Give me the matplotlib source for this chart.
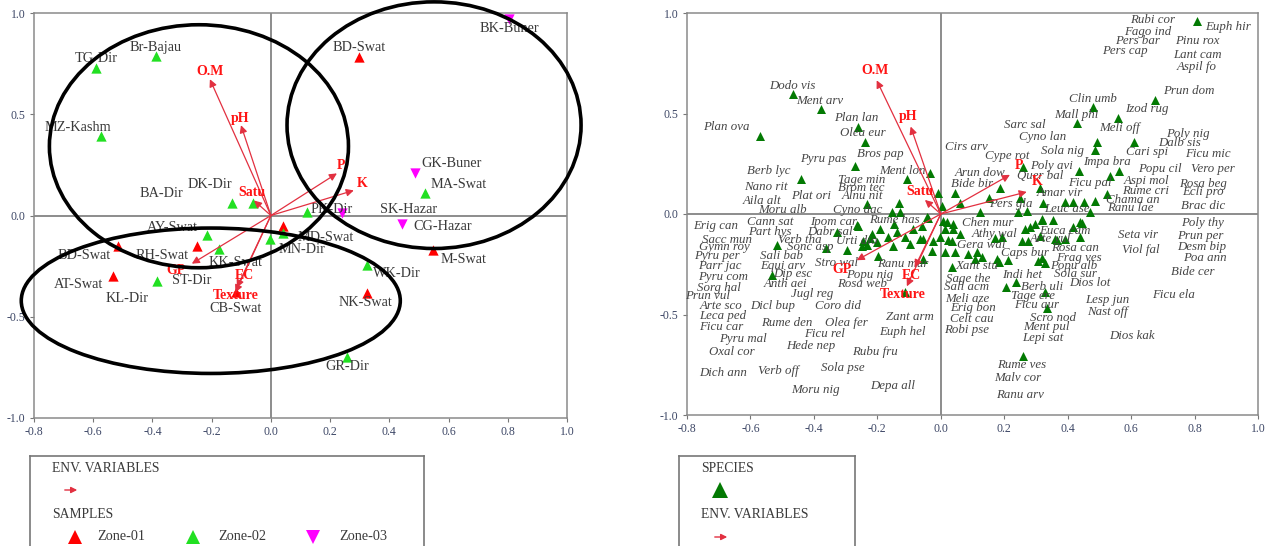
import matplotlib
matplotlib.use('Agg')
import matplotlib.pyplot as plt
from matplotlib.patches import Ellipse
from matplotlib.ticker import FuncFormatter

plt.rcParams['font.family'] = ['Liberation Serif', 'DejaVu Serif']
plt.rcParams['axes.unicode_minus'] = False

# ---------------- samples (left biplot) ----------------
samples = ['TG-Dir', 'Br-Bajau', 'MZ-Kashm', 'BA-Dir', 'DK-Dir', 'BD-Swat', 'BK-Buner',
           'GK-Buner', 'MA-Swat', 'PK-Dir', 'SK-Hazar', 'CG-Hazar', 'M-Swat', 'WK-Dir',
           'NK-Swat', 'GR-Dir', 'MD-Swat', 'MN-Dir', 'KL-Dir', 'AY-Swat', 'BD-Swat',
           'RH-Swat', 'KK-Swat', 'AT-Swat', 'ST-Dir', 'CB-Swat']
sample_x = [-0.591, -0.389, -0.574, -0.132, -0.061, 0.297, 0.804, 0.486, 0.520, 0.122,
            0.240, 0.443, 0.547, 0.324, 0.324, 0.257, 0.041, -0.003, 0.041, -0.216,
            -0.517, -0.250, -0.176, -0.534, -0.385, -0.118]
sample_y = [0.728, 0.787, 0.391, 0.064, 0.064, 0.782, 0.970, 0.208, 0.109, 0.015,
            0.010, -0.040, -0.168, -0.243, -0.381, -0.698, -0.054, -0.114, -0.084, -0.094,
            -0.149, -0.149, -0.163, -0.297, -0.322, -0.376]
sample_zone = [2, 2, 2, 2, 2, 1, 3, 3, 2, 2, 3, 3, 1, 2, 1, 2, 1, 2, 2, 2, 1, 1, 2, 1, 2, 1]
sample_lab_x = [-0.591, -0.389, -0.652, -0.368, -0.206, 0.297, 0.804, 0.611, 0.635, 0.206,
                0.466, 0.581, 0.649, 0.426, 0.321, 0.257, 0.186, 0.105, -0.486, -0.334,
                -0.632, -0.368, -0.118, -0.649, -0.267, -0.118]
sample_lab_y = [0.777, 0.832, 0.436, 0.109, 0.153, 0.832, 0.921, 0.257, 0.153, 0.030,
                0.030, -0.054, -0.218, -0.287, -0.431, -0.748, -0.109, -0.168, -0.411, -0.059,
                -0.198, -0.198, -0.233, -0.342, -0.322, -0.460]

zone_names = ['Zone-01', 'Zone-02', 'Zone-03']
zone_colors = {1: '#ff0000', 2: '#22e022', 3: '#ff00ff'}
zone_markers = {1: '^', 2: '^', 3: 'v'}

# ---------------- environmental variables ----------------
env_names = ['O.M', 'pH', 'Satu', 'P', 'K', 'GP', 'EC', 'Texture']
env_x_l = [-0.206, -0.101, -0.057, 0.223, 0.280, -0.267, -0.115, -0.120]
env_y_l = [0.673, 0.446, 0.074, 0.208, 0.124, -0.238, -0.356, -0.380]
env_lab_x_l = [-0.206, -0.105, -0.064, 0.236, 0.307, -0.321, -0.091, -0.118]
env_lab_y_l = [0.713, 0.480, 0.114, 0.248, 0.158, -0.272, -0.297, -0.396]

env_x_r = [-0.202, -0.095, -0.050, 0.218, 0.271, -0.265, -0.082, -0.107]
env_y_r = [0.665, 0.435, 0.070, 0.195, 0.110, -0.230, -0.265, -0.360]
env_lab_x_r = [-0.208, -0.104, -0.066, 0.246, 0.303, -0.312, -0.091, -0.120]
env_lab_y_r = [0.715, 0.485, 0.110, 0.240, 0.160, -0.275, -0.305, -0.400]

# ---------------- species (right biplot) ----------------
species = ['Dodo vis', 'Ment arv', 'Plan lan', 'Plan ova', 'Olea eur', 'Bros pap', 'Pyru pas',
           'Berb lyc', 'Ment lon', 'Tage min', 'Nano rit', 'Brom tec', 'Plat ori', 'Alnu nit',
           'Aila alt', 'Moru alb', 'Cyno dac', 'Rume has', 'Erig can', 'Cann sat', 'Ipom car',
           'Part hys', 'Dabr sal', 'Sacc mun', 'Verb tha', 'Gymn roy', 'Sonc asp', 'Urti dio',
           'Pyru per', 'Sali bab', 'Parr jac', 'Equi arv', 'Stro wal', 'Ranu mur', 'Pyru com',
           'Dip esc', 'Popu nig', 'Anth aei', 'Rosa web', 'Sorg hal', 'Prun vul', 'Jugl reg',
           'Arte sco', 'Dicl bup', 'Coro did', 'Leca ped', 'Zant arm', 'Rume den', 'Olea fer',
           'Ficu car', 'Ficu rel', 'Euph hel', 'Pyru mal', 'Hede nep', 'Oxal cor', 'Rubu fru',
           'Sola pse', 'Dich ann', 'Verb off', 'Depa all', 'Moru nig',
           'Rubi cor', 'Euph hir', 'Fago ind', 'Pers bar', 'Pinu rox', 'Pers cap', 'Lant cam',
           'Aspil fo', 'Prun dom', 'Clin umb', 'Izod rug', 'Mall phi', 'Sarc sal', 'Meli off',
           'Poly nig', 'Cyno lan', 'Dalb sis', 'Cirs arv', 'Sola nig', 'Cari spi', 'Ficu mic',
           'Cype rot', 'Poly avi', 'Impa bra', 'Popu cil', 'Vero per', 'Arun dow', 'Quer bal',
           'Bide bir', 'Ficu pal', 'Aspi mol', 'Rosa beg', 'Amar vir', 'Rume cri', 'Ecli pro',
           'Pers gla', 'Chama an', 'Leuc ase', 'Ranu lae', 'Brac dic', 'Chen mur', 'Poly thy',
           'Euca cam', 'Athy wal', 'Arte vul', 'Seta vir', 'Prun per', 'Gera wal', 'Rosa can',
           'Viol fal', 'Desm bip', 'Caps bur', 'Frag ves', 'Poa ann', 'Xant stu', 'Popu alb',
           'Sola sur', 'Indi het', 'Bide cer', 'Sage the', 'Dios lot', 'Sali acm', 'Berb uli',
           'Tage ere', 'Ficu ela', 'Meli aze', 'Lesp jun', 'Ficu aur', 'Erig bon', 'Nast off',
           'Scro nod', 'Celt cau', 'Ment pul', 'Robi pse', 'Dios kak', 'Lepi sat', 'Rume ves',
           'Malv cor', 'Ranu arv']
species_lab_x = [-0.467, -0.382, -0.265, -0.675, -0.246, -0.192, -0.372,
                 -0.543, -0.120, -0.249, -0.552, -0.252, -0.410, -0.246,
                 -0.565, -0.498, -0.262, -0.145, -0.710, -0.536, -0.338,
                 -0.539, -0.350, -0.675, -0.445, -0.681, -0.413, -0.265,
                 -0.707, -0.502, -0.697, -0.498, -0.328, -0.120, -0.688,
                 -0.467, -0.224, -0.489, -0.249, -0.700, -0.735, -0.404,
                 -0.691, -0.530, -0.325, -0.688, -0.098, -0.486, -0.297,
                 -0.691, -0.366, -0.120, -0.625, -0.410, -0.659, -0.208,
                 -0.309, -0.685, -0.511, -0.151, -0.394,
                 0.669, 0.905, 0.653, 0.621, 0.808, 0.580, 0.808,
                 0.808, 0.782, 0.479, 0.650, 0.426, 0.265, 0.565,
                 0.779, 0.322, 0.754, 0.082, 0.385, 0.650, 0.842,
                 0.211, 0.350, 0.524, 0.691, 0.858, 0.123, 0.312,
                 0.098, 0.470, 0.647, 0.826, 0.375, 0.644, 0.826,
                 0.221, 0.606, 0.397, 0.596, 0.826, 0.148, 0.826,
                 0.391, 0.170, 0.344, 0.621, 0.817, 0.129, 0.423,
                 0.631, 0.823, 0.265, 0.435, 0.833, 0.114, 0.420,
                 0.423, 0.256, 0.795, 0.085, 0.470, 0.082, 0.319,
                 0.290, 0.735, 0.085, 0.524, 0.303, 0.101, 0.527,
                 0.353, 0.098, 0.334, 0.082, 0.603, 0.322, 0.256,
                 0.243, 0.249]
species_lab_y = [0.635, 0.560, 0.480, 0.435, 0.405, 0.300, 0.275,
                 0.215, 0.215, 0.170, 0.135, 0.130, 0.090, 0.090,
                 0.065, 0.020, 0.020, -0.030, -0.060, -0.040, -0.040,
                 -0.090, -0.090, -0.130, -0.130, -0.165, -0.165, -0.135,
                 -0.210, -0.210, -0.260, -0.260, -0.245, -0.250, -0.315,
                 -0.300, -0.305, -0.350, -0.350, -0.370, -0.410, -0.400,
                 -0.460, -0.460, -0.460, -0.505, -0.510, -0.540, -0.540,
                 -0.560, -0.595, -0.585, -0.620, -0.655, -0.685, -0.685,
                 -0.765, -0.790, -0.780, -0.855, -0.875,
                 0.965, 0.930, 0.905, 0.860, 0.860, 0.810, 0.790,
                 0.730, 0.610, 0.570, 0.520, 0.495, 0.445, 0.430,
                 0.400, 0.385, 0.355, 0.335, 0.315, 0.310, 0.300,
                 0.290, 0.240, 0.260, 0.225, 0.225, 0.205, 0.190,
                 0.150, 0.155, 0.165, 0.150, 0.105, 0.115, 0.110,
                 0.050, 0.070, 0.025, 0.030, 0.040, -0.045, -0.045,
                 -0.085, -0.100, -0.125, -0.105, -0.110, -0.155, -0.170,
                 -0.180, -0.165, -0.195, -0.220, -0.220, -0.260, -0.260,
                 -0.300, -0.305, -0.290, -0.325, -0.345, -0.365, -0.365,
                 -0.410, -0.405, -0.425, -0.430, -0.455, -0.470, -0.490,
                 -0.515, -0.520, -0.560, -0.575, -0.605, -0.615, -0.750,
                 -0.815, -0.900]

# species score markers
species_pt_x = [-0.571, -0.467, -0.379, -0.262, -0.240, -0.271, -0.442, -0.107, -0.035, -0.233,
                -0.132, -0.155, -0.129, -0.009, 0.003, 0.044,
                0.808, 0.675, 0.479, 0.558, 0.429, 0.609, 0.492, 0.486, 0.259, 0.435,
                0.562, 0.533, 0.186, 0.312, 0.151, 0.249, 0.524, 0.391, 0.416, 0.451,
                0.486, 0.123, 0.243, 0.271, 0.322, 0.470, 0.060, 0.319, 0.438,
                -0.517, -0.533, -0.363, -0.297, -0.262, -0.218, -0.192, -0.167, -0.139, -0.148,
                -0.114, -0.088, -0.060, -0.044, -0.057, -0.028, -0.003, 0.019, 0.035, 0.038,
                -0.246, -0.202, -0.151, -0.233, -0.199, -0.057, -0.114, 0.013, 0.044, 0.035,
                0.259, 0.334, 0.328, 0.205, 0.237, 0.328, 0.319, 0.211, 0.183, 0.107,
                0.129, 0.114, 0.085, 0.022, 0.170, 0.274, 0.265, 0.281, 0.360, 0.391,
                0.416, 0.445, 0.438, 0.060, 0.038, 0.319,
                -0.041, 0.006, 0.013, -0.265, -0.066, -0.025, -0.098, -0.224, -0.249, -0.328,
                0.177, 0.192, 0.312, 0.366, 0.306, 0.297, 0.353, 0.256]
species_pt_y = [0.390, 0.595, 0.520, 0.435, 0.360, 0.240, 0.175, 0.175, 0.205, 0.050,
                0.055, 0.010, 0.010, 0.105, 0.040, 0.105,
                0.960, 0.565, 0.530, 0.480, 0.455, 0.360, 0.360, 0.320, 0.235, 0.215,
                0.215, 0.190, 0.130, 0.130, 0.080, 0.080, 0.100, 0.060, 0.060, 0.060,
                0.065, 0.010, 0.010, 0.015, 0.055, 0.010, 0.055, -0.025, -0.040,
                -0.155, -0.305, -0.170, -0.180, -0.060, -0.100, -0.075, -0.115, -0.090, -0.050,
                -0.115, -0.075, -0.060, -0.015, -0.125, -0.185, -0.115, -0.040, -0.135, -0.075,
                -0.135, -0.140, -0.160, -0.155, -0.210, -0.225, -0.390, -0.190, -0.190, -0.265,
                -0.705, -0.470, -0.390, -0.365, -0.340, -0.245, -0.220, -0.230, -0.240, -0.225,
                -0.215, -0.190, -0.200, -0.130, -0.120, -0.135, -0.075, -0.065, -0.125, -0.125,
                -0.065, -0.045, -0.115, -0.100, -0.050, -0.030,
                -0.020, -0.035, -0.075, -0.055, -0.125, -0.135, -0.150, -0.120, -0.160, -0.090,
                -0.225, -0.115, -0.110, -0.130, -0.235, -0.050, -0.030, -0.135]

# group ellipses on the sample plot: centre x, centre y, width, height
ell_cx = [-0.243, 0.551, -0.203]
ell_cy = [0.342, 0.446, -0.421]
ell_w = [1.01, 0.993, 1.28]
ell_h = [1.20, 1.218, 0.718]

x_ticks = [-0.8, -0.6, -0.4, -0.2, 0.0, 0.2, 0.4, 0.6, 0.8, 1.0]
y_ticks = [-1.0, -0.5, 0.0, 0.5, 1.0]

W, H = 1273, 546
ARROW_C = '#e23040'
ENV_C = '#ff1414'
TXT_C = '#3a3a3a'

one_dec = FuncFormatter(lambda v, pos: '%.1f' % (round(v, 1) + 0.0))


def style_axes(ax):
    ax.set_xlim(-0.8, 1.0)
    ax.set_ylim(-1.0, 1.0)
    ax.set_xticks(x_ticks)
    ax.set_yticks(y_ticks)
    ax.xaxis.set_major_formatter(one_dec)
    ax.yaxis.set_major_formatter(one_dec)
    ax.tick_params(direction='out', length=3, width=0.8, color='#777777',
                   labelcolor='#3d4766', labelsize=8.5, pad=3)
    for s in ax.spines.values():
        s.set_color('#8a8a8a')
        s.set_linewidth(1.1)
    ax.axhline(0, color='#6e6e6e', lw=1.1, zorder=1)
    ax.axvline(0, color='#6e6e6e', lw=1.1, zorder=1)


def draw_env(ax, ex, ey, lx, ly):
    for name, x, y, tx, ty in zip(env_names, ex, ey, lx, ly):
        ax.annotate('', xy=(x, y), xytext=(0, 0),
                    arrowprops=dict(arrowstyle='-|>', color=ARROW_C, lw=0.9,
                                    mutation_scale=11, shrinkA=0, shrinkB=0),
                    zorder=4)
        ax.text(tx, ty, name, color=ENV_C, fontsize=10, fontweight='bold',
                ha='center', va='center', zorder=5)


fig = plt.figure(figsize=(W / 100, H / 100), dpi=100)

# ---- left: samples + env variables ----
axl = fig.add_axes([34 / W, 1 - 418 / H, (567 - 34) / W, (418 - 13) / H])
style_axes(axl)
for z in (1, 2, 3):
    xs = [x for x, k in zip(sample_x, sample_zone) if k == z]
    ys = [y for y, k in zip(sample_y, sample_zone) if k == z]
    axl.scatter(xs, ys, marker=zone_markers[z], s=55, color=zone_colors[z],
                linewidths=0, zorder=3, clip_on=False)
for name, tx, ty in zip(samples, sample_lab_x, sample_lab_y):
    axl.text(tx, ty, name, fontsize=10.3, color=TXT_C, ha='center', va='center', zorder=3)
draw_env(axl, env_x_l, env_y_l, env_lab_x_l, env_lab_y_l)
for cx, cy, w, h in zip(ell_cx, ell_cy, ell_w, ell_h):
    axl.add_patch(Ellipse((cx, cy), w, h, fill=False, ec='black', lw=2.6,
                          zorder=6, clip_on=False))

# ---- right: species + env variables ----
axr = fig.add_axes([687 / W, 1 - 415 / H, (1258 - 687) / W, (415 - 13) / H])
style_axes(axr)
axr.scatter(species_pt_x, species_pt_y, marker='^', s=42, color='#037a03',
            linewidths=0, zorder=3)
for name, tx, ty in zip(species, species_lab_x, species_lab_y):
    axr.text(tx, ty, name, fontsize=9.3, style='italic', color='#454545',
             ha='center', va='center', zorder=3)
draw_env(axr, env_x_r, env_y_r, env_lab_x_r, env_lab_y_r)


# ---- legend boxes (bottom is cut by the page edge) ----
def fx(px):
    return px / W


def fy(py):
    return 1 - py / H


def legend_box(x0, x1, top):
    lg = fig.add_axes([fx(x0), -0.05, fx(x1) - fx(x0), fy(top) + 0.05])
    lg.set_xticks([])
    lg.set_yticks([])
    for s in lg.spines.values():
        s.set_color('#777777')
        s.set_linewidth(1.2)
    return lg


def legend_arrow(x0, x1, py):
    fig.add_artist(matplotlib.patches.FancyArrowPatch(
        (fx(x0), fy(py)), (fx(x1), fy(py)), transform=fig.transFigure,
        arrowstyle='-|>', color=ARROW_C, lw=1.0, mutation_scale=9))


legend_box(30, 424, 456)
fig.text(fx(52), fy(468), 'ENV. VARIABLES', fontsize=9.8, color=TXT_C, va='center')
legend_arrow(62, 80, 490)
fig.text(fx(52), fy(514), 'SAMPLES', fontsize=9.8, color=TXT_C, va='center')
for z, mx, tx in zip((1, 2, 3), (75, 193, 313), (97, 218, 339)):
    fig.add_artist(plt.Line2D([fx(mx)], [fy(537)], marker=zone_markers[z], ms=10,
                              color=zone_colors[z], mew=0, transform=fig.transFigure))
    fig.text(fx(tx), fy(537), zone_names[z - 1], fontsize=10.3, color=TXT_C, va='center')

legend_box(679, 855, 456)
fig.text(fx(701), fy(468), 'SPECIES', fontsize=9.8, color=TXT_C, va='center')
fig.add_artist(plt.Line2D([fx(720)], [fy(490)], marker='^', ms=11, color='#037a03',
                          mew=0, transform=fig.transFigure))
fig.text(fx(701), fy(514), 'ENV. VARIABLES', fontsize=9.8, color=TXT_C, va='center')
legend_arrow(712, 730, 537)

fig.savefig('out.png', dpi=100)
